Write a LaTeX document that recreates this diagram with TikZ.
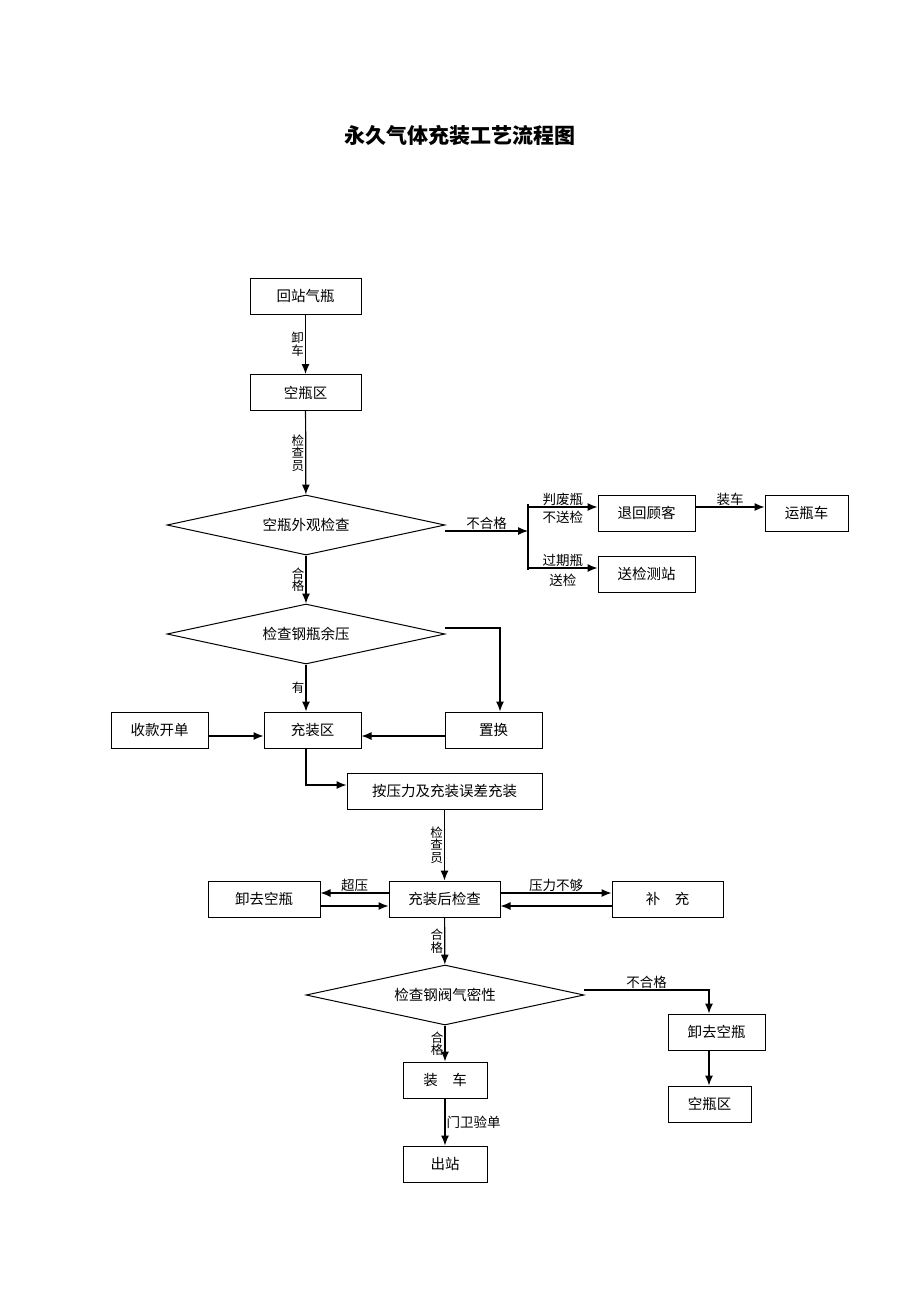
\documentclass[tikz,border=0pt]{standalone}
\usepackage{fontspec}
\setmainfont{Noto Sans CJK SC}
\usetikzlibrary{positioning,shapes,arrows,arrows.meta}
\tikzstyle{int}=[draw, minimum height = 36pt, minimum width=97pt, inner sep=0pt, line width=1pt]
\tikzstyle{dia}=[draw, diamond, aspect=4.63, minimum width=278pt, minimum height=60pt, inner sep=0pt, line width=1pt]
\tikzstyle{lab}=[font=\fontsize{13.5}{14}\selectfont, inner sep=1pt]
\tikzstyle{vlab}=[font=\fontsize{12.5}{12.5}\selectfont, align=center, inner sep=1pt]
\tikzstyle{con}=[-{Latex[length=10pt,width=8pt]}, line width=1.2pt]

\begin{document}
\begin{tikzpicture}[x=1pt,y=-1pt,font=\fontsize{14.5}{16}\selectfont]
\useasboundingbox (0,0) rectangle (920,1302);
\node at (460,136) (title) {\fontsize{21}{24}\selectfont\bfseries 永久气体充装工艺流程图};

\node[int, minimum width=111pt] at (305.5,296) (back) {回站气瓶};
\node[int, minimum width=111pt] at (305.5,392.5) (empty) {空瓶区};
\node[dia] at (306,525) (look) {空瓶外观检查};
\node[dia] at (306,634) (press) {检查钢瓶余压};
\node[int] at (312.5,730) (fill) {充装区};
\node[int] at (159.5,730) (pay) {收款开单};
\node[int] at (493.5,730) (swap) {置换};
\node[int, minimum width=195pt] at (444.5,791) (charge) {按压力及充装误差充装};
\node[int, minimum width=111pt] at (444.5,899) (after) {充装后检查};
\node[int, minimum width=112pt] at (264,899) (unload) {卸去空瓶};
\node[int, minimum width=111pt] at (667.5,899) (refill) {补\quad 充};
\node[dia] at (445,995) (valve) {检查钢阀气密性};
\node[int] at (716.5,1032) (unload2) {卸去空瓶};
\node[int, minimum width=83pt] at (709.5,1104) (empty2) {空瓶区};
\node[int, minimum width=84pt] at (445,1080) (load) {装\quad 车};
\node[int, minimum width=84pt] at (445,1164) (out) {出站};
\node[int] at (646.5,513) (ret) {退回顾客};
\node[int, minimum width=83pt] at (806.5,513) (truck) {运瓶车};
\node[int] at (646.5,574) (test) {送检测站};

\draw[con] (back) -- node[vlab, left] {卸\\车} (empty);
\draw[con] (empty) -- node[vlab, left] {检\\查\\员} (look);
\draw[con] (look) -- node[vlab, left] {合\\格} (press);
\draw[con] (press.south) -- node[vlab, left] {有} (fill.north -| press.south);
\coordinate (split) at (528,531);
\draw[con] (445,531) -- node[lab, above] {不合格} (split);
\draw[line width=1.2pt] (528,504) -- (528,570);
\draw[con] (528,507) -- node[lab, above] {判废瓶} node[lab, below=2pt] {不送检} (ret.west |- 0,507);
\draw[con] (528,568) -- node[lab, above] {过期瓶} node[lab, below=4pt] {送检} (test.west |- 0,568);
\draw[con] (ret.east |- 0,507) -- node[lab, above] {装车} (truck.west |- 0,507);
\draw[con] (445,628) -| (swap.north -| 500,0);
\draw[con] (pay.east |- 0,736) -- (fill.west |- 0,736);
\draw[con] (swap.west |- 0,736) -- (fill.east |- 0,736);
\draw[con] (fill.south -| 306,0) |- (charge.west |- 0,785);
\draw[con] (charge) -- node[vlab, left] {检\\查\\员} (after);
\draw[con] (after.west |- 0,893) -- node[lab, above] {超压} (unload.east |- 0,893);
\draw[con] (unload.east |- 0,906) -- (after.west |- 0,906);
\draw[con] (after.east |- 0,893) -- node[lab, above] {压力不够} (refill.west |- 0,893);
\draw[con] (refill.west |- 0,906) -- (after.east |- 0,906);
\draw[con] (after) -- node[vlab, left] {合\\格} (valve);
\draw[con] (584,990) -- node[lab, above] {不合格} (709,990) -- (unload2.north -| 709,0);
\draw[con] (unload2.south -| 709,0) -- (empty2.north -| 709,0);
\draw[con] (valve) -- node[vlab, left] {合\\格} (load);
\draw[con] (load) -- node[lab, right] {门卫验单} (out);
\end{tikzpicture}
\end{document}
